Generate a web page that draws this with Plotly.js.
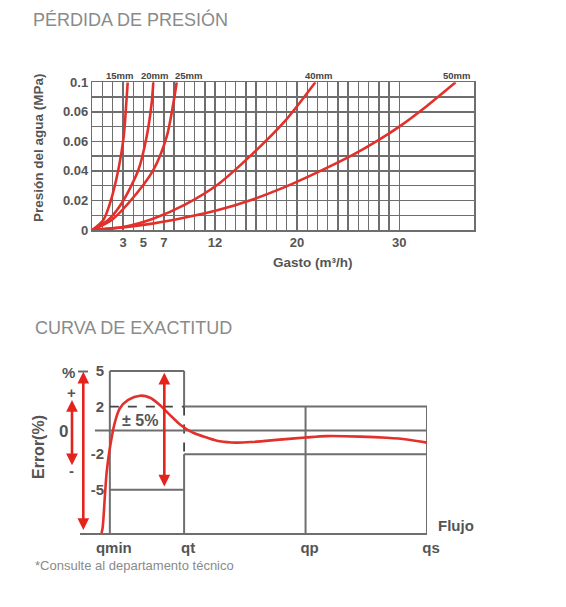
<!DOCTYPE html>
<html><head><meta charset="utf-8">
<script src="https://cdn.plot.ly/plotly-3.0.1.min.js"></script>
<style>html,body{margin:0;padding:0;background:#fff}#chart{width:566px;height:607px}</style>
</head><body><div id="chart"></div>
<script>
// ---------- PÉRDIDA DE PRESIÓN ----------
const pipeSizes = ['15mm', '20mm', '25mm', '40mm', '50mm'];
const flow15 = [0, 1.08, 1.73, 2.54, 3.07, 3.32, 3.46];
const loss15 = [0, 0.0068, 0.0181, 0.0406, 0.0632, 0.0858, 0.1];
const flow20 = [0, 1.56, 2.87, 4.50, 5.31, 5.80, 5.96];
const loss20 = [0, 0.0068, 0.0181, 0.0406, 0.0632, 0.0858, 0.1];
const flow25 = [0, 1.9, 3.52, 5.96, 7.27, 7.92, 8.25];
const loss25 = [0, 0.0068, 0.0181, 0.0406, 0.0632, 0.0858, 0.1];
const flow40 = [0, 3, 6, 9.06, 12.3, 15.6, 18.8, 21.8];
const loss40 = [0, 0.002, 0.0078, 0.0172, 0.031, 0.0512, 0.0735, 0.1];
const flow50 = [0, 3, 6, 9.06, 12.3, 15.6, 18.8, 22.3, 25.5, 28.0, 30.0, 32.7, 35.5];
const loss50 = [0, 0.0018, 0.0045, 0.0085, 0.0135, 0.0205, 0.029, 0.040, 0.051, 0.061, 0.070, 0.084, 0.1];
const pipeLabelFlow = [2.7, 6.1, 9.4, 22.1, 35.6];
const gastoTickVals = [3, 5, 7, 12, 20, 30];
const presionTickVals = [0, 0.02, 0.04, 0.06, 0.08, 0.1];
const presionTickText = ['0', '0.02', '0.04', '0.06', '0.06', '0.1'];

// ---------- CURVA DE EXACTITUD ----------
const flowTickText = ['qmin', 'qt', 'qp', 'qs'];
const flowTickPos = [8.6, 30, 65, 100];
const errTickVals = [5, 2, -2, -5];
const errTickText = ['5', '2', '-2', '-5'];
const errFlow = [6.2, 6.5, 7.2, 7.7, 8.6, 10.1, 11.5, 13.9, 17.3, 20.2, 23.0, 25.9, 28.8, 30, 32.6, 36.5, 40.3, 45.0, 49.8, 57.6, 65, 71, 80.7, 88.4, 94.2, 100];
const errValue = [-8.63, -8.23, -5.43, -3.47, -1.5, 0.73, 1.86, 2.56, 2.92, 2.75, 2.14, 1.3, 0.5, 0.25, -0.2, -0.6, -0.92, -1.03, -0.97, -0.78, -0.6, -0.48, -0.52, -0.62, -0.76, -1.03];
const outerLimit = 5, innerLimit = 2, errAxisMin = -8.63;
const bigArrow = [4.93, -8.5];     // full-range arrow at the left
const smallArrow = [2.56, -3.05];  // +/- indicator arrow
const midArrow = [4.85, -4.85];    // ±5% arrow

// ---------- build ----------
const W = 566, H = 607;
const px = v => v / W, py = v => 1 - v / H;
const RED = '#e2302b';
const GRID = '#6e6e6e';
const TXT = '#555555';
const FONT = 'Liberation Sans, Arial, sans-serif';

const flows = [flow15, flow20, flow25, flow40, flow50];
const losses = [loss15, loss20, loss25, loss40, loss50];
const traces = flows.map((f, i) => ({
  x: f, y: losses[i], type: 'scatter', mode: 'lines', name: pipeSizes[i],
  line: {color: RED, width: 2.6, shape: 'spline', smoothing: 0.8},
  xaxis: 'x', yaxis: 'y', hoverinfo: 'skip'
}));
traces.push({
  x: errFlow, y: errValue, type: 'scatter', mode: 'lines', name: 'error',
  line: {color: RED, width: 2.6, shape: 'spline', smoothing: 0.9},
  xaxis: 'x2', yaxis: 'y2', hoverinfo: 'skip'
});

// grid ticks for the pressure chart (a line at every unit / every 0.01)
const gridX = [], gridXText = [];
for (let i = 0; i <= 30; i++) { gridX.push(i); gridXText.push(gastoTickVals.includes(i) ? String(i) : ''); }
const gridY = [], gridYText = [];
for (let i = 0; i <= 10; i++) {
  const v = i / 100;
  gridY.push(v);
  const k = presionTickVals.findIndex(t => Math.abs(t - v) < 1e-9);
  gridYText.push(k >= 0 ? presionTickText[k] : '');
}

const [qmin, qt, qp, qs] = flowTickPos;
const solid = {color: GRID, width: 2};
const dashed = {color: '#444', width: 1.8, dash: 'dash'};
const seg = (x0, y0, x1, y1, line) => ({type: 'line', xref: 'x2', yref: 'y2', x0, y0, x1, y1, line, layer: 'below'});
const shapes = [
  seg(qmin, errAxisMin, qmin, outerLimit, solid),
  seg(qmin, outerLimit, qt, outerLimit, solid),
  seg(qt, outerLimit, qt, innerLimit, solid),
  seg(qt, innerLimit, qt, -innerLimit, dashed),
  seg(qt, -innerLimit, qt, errAxisMin, solid),
  seg(qmin, -outerLimit, qt, -outerLimit, solid),
  seg(qmin, innerLimit, qt, innerLimit, dashed),
  seg(qt, innerLimit, qs, innerLimit, solid),
  seg(qt, -innerLimit, qs, -innerLimit, solid),
  seg(4.3, 0, qs, 0, solid),
  seg(qp, innerLimit, qp, errAxisMin, solid),
  seg(qs, innerLimit, qs, errAxisMin, solid),
  {type: 'line', xref: 'paper', yref: 'paper', x0: px(78), x1: px(88), y0: py(371.5), y1: py(371.5), line: {color: GRID, width: 2}}
];

const bold = (size, color) => ({family: FONT, size, color: color || TXT, weight: 'bold'});
const txt = (text, x, y, font, extra) => Object.assign({text, x, y, xref: 'paper', yref: 'paper', showarrow: false, xanchor: 'center', yanchor: 'middle', font}, extra || {});
const arrowStyle = {showarrow: true, arrowhead: 2, startarrowhead: 2, arrowside: 'end+start', arrowwidth: 2.6, arrowsize: 0.9, startarrowsize: 0.9, arrowcolor: '#e3241c', text: '', standoff: 0, startstandoff: 0};

const annotations = [
  ...pipeSizes.map((s, i) => ({text: s, x: pipeLabelFlow[i], xref: 'x', y: py(75), yref: 'paper', showarrow: false, xanchor: 'center', yanchor: 'middle', font: bold(9.5, '#444')})),
  txt('Presión del agua (MPa)', px(38), py(148), bold(13.5), {textangle: -90}),
  txt('Gasto (m³/h)', px(312.5), py(263), bold(13.5)),
  txt('CURVA DE EXACTITUD', px(33), py(328), {family: FONT, size: 18, color: '#8a8a8a'}, {xanchor: 'left'}),
  txt('%', px(68), py(372), bold(15)),
  txt('+', px(71.7), py(392.5), bold(15)),
  txt('0', px(63), py(431.7), bold(17)),
  txt('-', px(71.7), py(470), bold(15)),
  txt('Error(%)', px(38), py(447), bold(16), {textangle: -90}),
  txt('Flujo', px(456), py(525), bold(15)),
  txt('*Consulte al departamento técnico', px(33), py(565), {family: FONT, size: 13, color: '#8a8a8a'}, {xanchor: 'left'}),
  {text: '± 5%', x: 17.3, y: 0.82, xref: 'x2', yref: 'y2', showarrow: false, xanchor: 'center', yanchor: 'middle', font: bold(16)},
  Object.assign({x: (83.3 - 80) / 3.47, y: bigArrow[0], ax: (83.3 - 80) / 3.47, ay: bigArrow[1], xref: 'x2', yref: 'y2', axref: 'x2', ayref: 'y2'}, arrowStyle),
  Object.assign({x: px(72), y: smallArrow[0], ax: 0, ay: smallArrow[1], xref: 'paper', yref: 'y2', axref: 'pixel', ayref: 'y2'}, arrowStyle),
  Object.assign({x: 24.3, y: midArrow[0], ax: 24.3, ay: midArrow[1], xref: 'x2', yref: 'y2', axref: 'x2', ayref: 'y2'}, arrowStyle)
];

const layout = {
  width: W, height: H, margin: {l: 0, r: 0, t: 0, b: 0},
  paper_bgcolor: '#fff', plot_bgcolor: '#fff', showlegend: false,
  font: {family: FONT, color: TXT},
  title: {text: 'PÉRDIDA DE PRESIÓN', x: px(33), xanchor: 'left', xref: 'paper', y: py(20), yref: 'paper', yanchor: 'middle', font: {family: FONT, size: 18, color: '#8a8a8a'}},
  xaxis: {domain: [px(92.3), px(474)], range: [0, 37.3], anchor: 'y', tickmode: 'array', tickvals: gridX, ticktext: gridXText,
    showgrid: true, gridcolor: GRID, gridwidth: 1.4, showline: true, mirror: true, linecolor: GRID, linewidth: 1.5,
    zeroline: false, ticks: '', tickfont: bold(13), fixedrange: true},
  yaxis: {domain: [py(230), py(82.3)], range: [0, 0.1], anchor: 'x', tickmode: 'array', tickvals: gridY, ticktext: gridYText,
    showgrid: true, gridcolor: GRID, gridwidth: 1.4, showline: true, mirror: true, linecolor: GRID, linewidth: 1.5,
    zeroline: false, ticks: '', tickfont: bold(13), fixedrange: true},
  xaxis2: {domain: [px(80), px(427)], range: [0, 100], anchor: 'y2', tickmode: 'array', tickvals: flowTickPos, ticktext: flowTickText,
    showgrid: false, zeroline: false, showline: true, linecolor: GRID, linewidth: 2, ticks: '', tickfont: bold(15),
    ticklabelshift: 4, fixedrange: true},
  yaxis2: {domain: [py(533), py(365)], range: [errAxisMin, 5.5], anchor: 'free', position: px(104), tickmode: 'array',
    tickvals: errTickVals, ticktext: errTickText, showgrid: false, zeroline: false, showline: false, ticks: '', tickfont: bold(15), fixedrange: true},
  shapes, annotations
};

Plotly.newPlot('chart', traces, layout, {displayModeBar: false, staticPlot: true});
</script></body></html>
